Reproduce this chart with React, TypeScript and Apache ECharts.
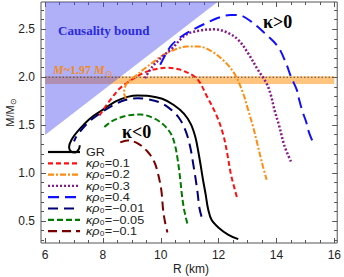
import React, { useEffect, useRef } from 'react';
import * as echarts from 'echarts';

// axis ranges and ticks
const xMin = 5.86;
const xMax = 16.1;
const yMin = 0.27;
const yMax = 2.785;
const xMajorTicks = [6, 8, 10, 12, 14, 16];
const xMinorTicks = [6.5, 7, 7.5, 8.5, 9, 9.5, 10.5, 11, 11.5, 12.5, 13, 13.5, 14.5, 15, 15.5];
const yMajorTicks = [0.5, 1.0, 1.5, 2.0, 2.5];
const yMinorTicks = [0.3, 0.4, 0.6, 0.7, 0.8, 0.9, 1.1, 1.2, 1.3, 1.4, 1.6, 1.7, 1.8, 1.9, 2.1, 2.2, 2.3, 2.4, 2.6, 2.7];

// shaded regions
const causalityPolygon = [[6, 1.397], [6, 2.785], [11.96, 2.785]];
const massBand = [[6, 1.93, 16.0, 2.01]];
const massLine = [[6, 2.0], [16.05, 2.0]];

// mass-radius curves [R (km), M/Msun]
const grCurve = [[12.68, 0.31], [12.34, 0.355], [12.0, 0.43], [11.76, 0.51], [11.64, 0.62], [11.55, 0.78], [11.46, 0.93], [11.38, 1.08], [11.3, 1.22], [11.2, 1.37], [11.04, 1.51], [10.8, 1.62], [10.45, 1.71], [10.05, 1.775], [9.6, 1.805], [9.2, 1.81], [8.85, 1.795], [8.46, 1.75], [7.94, 1.65], [7.54, 1.565], [7.14, 1.44], [6.92, 1.35], [6.83, 1.27], [6.9, 1.225], [7.05, 1.215], [7.17, 1.25], [7.2, 1.29]];
const k01Curve = [[7.88, 1.6], [8.1, 1.7], [8.3, 1.78], [8.57, 1.88], [8.9, 1.955], [9.3, 2.03], [9.75, 2.08], [10.2, 2.098], [10.62, 2.083], [11.08, 2.024], [11.32, 1.96], [11.58, 1.81], [11.93, 1.6], [12.16, 1.4], [12.3, 1.2], [12.43, 0.98], [12.55, 0.84], [12.63, 0.75]];
const k02Curve = [[8.8, 1.77], [8.73, 1.84], [8.78, 1.91], [8.92, 1.965], [9.12, 2.01], [9.4, 2.08], [9.75, 2.16], [10.1, 2.235], [10.5, 2.29], [10.9, 2.32], [11.31, 2.32], [11.76, 2.27], [12.22, 2.16], [12.56, 2.03], [12.85, 1.83], [13.02, 1.66], [13.19, 1.485], [13.36, 1.28], [13.53, 1.07], [13.66, 0.93]];
const k03Curve = [[9.45, 1.99], [9.71, 2.11], [10.05, 2.215], [10.39, 2.3], [10.85, 2.44], [11.31, 2.485], [11.88, 2.5], [12.34, 2.46], [12.68, 2.39], [13.02, 2.25], [13.36, 2.076], [13.65, 1.94], [13.8, 1.82], [13.93, 1.66], [14.1, 1.485], [14.28, 1.28], [14.52, 1.107]];
const k04Curve = [[9.98, 2.13], [10.17, 2.24], [10.39, 2.34], [10.74, 2.43], [11.2, 2.51], [11.54, 2.56], [11.99, 2.62], [12.4, 2.65], [12.74, 2.645], [13.13, 2.58], [13.59, 2.46], [14.05, 2.32], [14.33, 2.146], [14.5, 2.006], [14.7, 1.87], [14.79, 1.76], [14.9, 1.64], [15.02, 1.54], [15.13, 1.42], [15.3, 1.295]];
const km001Curve = [[11.41, 0.545], [11.34, 0.63], [11.27, 0.8], [11.2, 0.95], [11.13, 1.08], [11.02, 1.27], [10.86, 1.44], [10.62, 1.58], [10.28, 1.68], [9.94, 1.74], [9.55, 1.77], [9.2, 1.78], [8.8, 1.765], [8.4, 1.715], [7.94, 1.63], [7.5, 1.53], [7.1, 1.39], [7.0, 1.33]];
const km005Curve = [[8.05, 1.48], [8.17, 1.51], [8.4, 1.555], [8.85, 1.6], [9.3, 1.61], [9.77, 1.57], [10.11, 1.5], [10.37, 1.4], [10.5, 1.28], [10.58, 1.15], [10.64, 1.02], [10.68, 0.92], [10.72, 0.8], [10.8, 0.63], [10.92, 0.47]];
const km01Curve = [[8.6, 1.32], [8.85, 1.34], [9.2, 1.31], [9.54, 1.225], [9.77, 1.12], [9.9, 1.0], [10.02, 0.82], [10.08, 0.62], [10.14, 0.5], [10.23, 0.38]];

const legendLabels = ['GR', '0.1', '0.2', '0.3', '0.4', '\u22120.01', '\u22120.05', '\u22120.1'];

const curveStyles = [
  { data: grCurve, color: '#000000', dash: 'solid' as any, width: 2 },
  { data: k01Curve, color: '#ff1010', dash: [5, 3], width: 2 },
  { data: k02Curve, color: '#ff8c10', dash: [6, 2, 2, 2], width: 2 },
  { data: k03Curve, color: '#8a1a8a', dash: [2, 2], width: 2.5 },
  { data: k04Curve, color: '#1010ff', dash: [11, 6], width: 2 },
  { data: km001Curve, color: '#00007a', dash: [10, 6], width: 2 },
  { data: km005Curve, color: '#007a00', dash: [6, 3], width: 2 },
  { data: km01Curve, color: '#7a0000', dash: [9, 5], width: 2 },
];

const frameColor = '#555';
const sans = '"Liberation Sans", Arial, sans-serif';
const serif = '"Liberation Serif", "Times New Roman", serif';

function measure(text: string, font: string): number {
  const ctx = document.createElement('canvas').getContext('2d');
  if (!ctx) return text.length * 7;
  ctx.font = font;
  return ctx.measureText(text).width;
}

function makeAxis(kind: 'x' | 'y', position: string, ticks: number[], len: number, labels: boolean) {
  return {
    type: 'value',
    min: kind === 'x' ? xMin : yMin,
    max: kind === 'x' ? xMax : yMax,
    position,
    axisLine: { show: false },
    splitLine: { show: false },
    axisTick: { show: true, inside: true, length: len, customValues: ticks, lineStyle: { color: frameColor, width: 1 } },
    axisLabel: labels
      ? {
          show: true,
          customValues: ticks,
          margin: 6,
          fontFamily: sans,
          fontSize: 12,
          color: '#222',
          formatter: (v: number) => (kind === 'y' ? v.toFixed(1) : String(v)),
        }
      : { show: false },
  };
}

export default function App() {
  const ref = useRef<HTMLDivElement>(null);
  useEffect(() => {
    const chart = echarts.init(ref.current!, null, { renderer: 'svg' });
    const series: any[] = [
      {
        type: 'custom',
        data: massBand,
        encode: { x: [0, 2], y: [1, 3] },
        z: 1,
        silent: true,
        renderItem: (p: any, api: any) => {
          const a = api.coord([api.value(0), api.value(3)]);
          const b = api.coord([api.value(2), api.value(1)]);
          return { type: 'rect', shape: { x: a[0], y: a[1], width: b[0] - a[0], height: b[1] - a[1] }, style: { fill: 'rgba(255,140,0,0.5)' } };
        },
      },
      {
        type: 'custom',
        data: causalityPolygon,
        encode: { x: 0, y: 1 },
        z: 2,
        silent: true,
        renderItem: (p: any, api: any) => {
          if (p.dataIndex !== 0) return null;
          return {
            type: 'polygon',
            shape: { points: causalityPolygon.map((pt) => api.coord(pt)) },
            style: { fill: 'rgba(80,80,240,0.45)' },
          };
        },
      },
      {
        type: 'line',
        data: massLine,
        showSymbol: false,
        z: 3,
        silent: true,
        lineStyle: { color: '#444', width: 1, type: [1.5, 2] },
      },
      ...curveStyles.map((c, i) => ({
        type: 'line',
        data: c.data,
        showSymbol: false,
        smooth: 0.35,
        z: 5 + i,
        silent: true,
        clip: true,
        lineStyle: { color: c.color, width: c.width, type: c.dash, cap: 'butt' },
      })),
    ];

    const legendY0 = 152;
    const legendDy = 11.3;
    const legendX = 86;
    const legendGraphics: any[] = [];
    curveStyles.forEach((c, i) => {
      const y = legendY0 + i * legendDy;
      legendGraphics.push({
        type: 'line',
        shape: { x1: 48, y1: y, x2: 80, y2: y },
        style: { stroke: c.color, lineWidth: 2.2, lineDash: c.dash === 'solid' ? null : c.dash },
        z: 100,
      });
      legendGraphics.push({
        type: 'text',
        x: legendX,
        y,
        scaleX: 1.15,
        z: 100,
        style: {
          text: i === 0 ? '{n|GR}' : `{k|\u03ba\u03c1}{n|\u2080=${legendLabels[i]}}`,
          verticalAlign: 'middle',
          rich: {
            n: { fontFamily: sans, fontSize: 11, lineHeight: 11, fill: '#222' },
            k: { fontFamily: sans, fontSize: 11, lineHeight: 11, fontStyle: 'italic', fill: '#222' },
          },
        },
      });
    });

    const oFontI = `italic bold 12px ${serif}`;
    const oFontN = `bold 12px ${serif}`;
    const mW = measure('M', oFontI);
    const midW = measure('~1.97 ', oFontN);
    const orange = '#f08a24';
    const yLabW = measure('M/M', `11px ${sans}`);

    chart.setOption({
      animation: false,
      grid: { left: 41, right: 4, top: 2, bottom: 34, show: true, borderColor: frameColor, borderWidth: 1, backgroundColor: 'transparent' },
      xAxis: [
        makeAxis('x', 'bottom', xMajorTicks, 5, true),
        makeAxis('x', 'bottom', xMinorTicks, 3, false),
        makeAxis('x', 'top', xMajorTicks, 5, false),
        makeAxis('x', 'top', xMinorTicks, 3, false),
      ],
      yAxis: [
        makeAxis('y', 'left', yMajorTicks, 5, true),
        makeAxis('y', 'left', yMinorTicks, 3, false),
        makeAxis('y', 'right', yMajorTicks, 5, false),
        makeAxis('y', 'right', yMinorTicks, 3, false),
      ],
      series,
      graphic: [
        {
          type: 'text',
          x: 58,
          y: 30,
          z: 100,
          style: { text: 'Causality bound', font: `bold 13px ${serif}`, fill: '#2a2ae0', verticalAlign: 'middle' },
        },
        { type: 'text', x: 53, y: 70, z: 100, style: { text: 'M', font: oFontI, fill: orange, verticalAlign: 'middle' } },
        { type: 'text', x: 53 + mW, y: 70, z: 100, style: { text: '~1.97 ', font: oFontN, fill: orange, verticalAlign: 'middle' } },
        { type: 'text', x: 53 + mW + midW, y: 70, z: 100, style: { text: 'M', font: oFontI, fill: orange, verticalAlign: 'middle' } },
        { type: 'text', x: 53 + 2 * mW + midW, y: 74, z: 100, style: { text: '\u2299', font: `9px ${sans}`, fill: orange, verticalAlign: 'middle' } },
        {
          type: 'text',
          x: 263,
          y: 22,
          z: 100,
          style: { text: '\u03ba>0', font: `bold 18px ${serif}`, fill: '#000', verticalAlign: 'middle' },
        },
        {
          type: 'text',
          x: 122,
          y: 132,
          z: 100,
          style: { text: '\u03ba<0', font: `bold 18px ${serif}`, fill: '#000', verticalAlign: 'middle' },
        },
        {
          type: 'text',
          x: 191,
          y: 269,
          z: 100,
          style: { text: 'R (km)', font: `12px ${sans}`, fill: '#222', align: 'center', verticalAlign: 'middle' },
        },
        {
          type: 'group',
          x: 10,
          y: 113,
          rotation: Math.PI / 2,
          z: 100,
          children: [
            { type: 'text', x: -yLabW / 2 - 3, y: 0, style: { text: 'M/M', font: `11px ${sans}`, fill: '#222', align: 'left', verticalAlign: 'middle' } },
            { type: 'text', x: yLabW / 2 - 2.5, y: 3, style: { text: '\u2299', font: `8px ${sans}`, fill: '#222', align: 'left', verticalAlign: 'middle' } },
          ],
        },
        ...legendGraphics,
      ],
    });
    return () => chart.dispose();
  }, []);
  return <div ref={ref} style={{ position: 'absolute', left: 0, top: 0, width: 344, height: 277 }} />;
}
